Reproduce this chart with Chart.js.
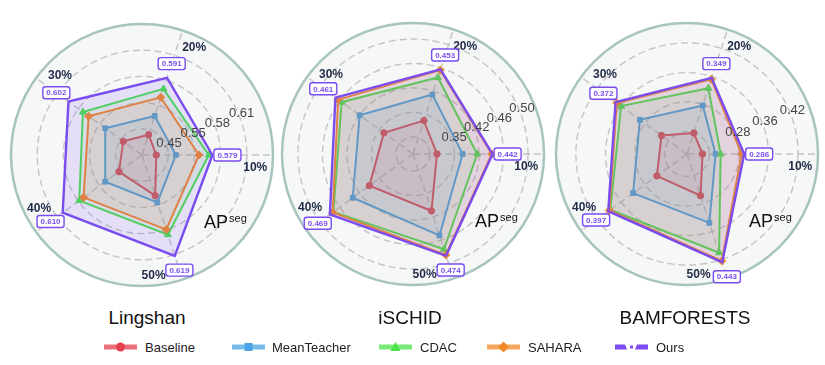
<!DOCTYPE html>
<html>
<head>
<meta charset="utf-8">
<script src="https://cdn.jsdelivr.net/npm/chart.js@4.4.1/dist/chart.umd.min.js"></script>
<style>
html,body{margin:0;padding:0;background:#fff;width:825px;height:365px;overflow:hidden;position:relative;font-family:"Liberation Sans",Arial,Helvetica,sans-serif;}
canvas.cv{position:absolute;}
.title{position:absolute;font-size:19px;color:#111;transform:translate(-50%,-50%);white-space:nowrap;}
.leg{position:absolute;top:339px;height:16px;display:flex;align-items:center;font-size:13px;color:#222;white-space:nowrap;}
.leg svg{display:block;}
</style>
</head>
<body>
<canvas id="c0" class="cv" width="280" height="280" style="left:2px;top:15px"></canvas>
<canvas id="c1" class="cv" width="280" height="280" style="left:273px;top:14px"></canvas>
<canvas id="c2" class="cv" width="280" height="280" style="left:547px;top:14px"></canvas>

<div class="title" style="left:147px;top:318px">Lingshan</div>
<div class="title" style="left:410px;top:318px">iSCHID</div>
<div class="title" style="left:685px;top:318px">BAMFORESTS</div>

<div class="leg" style="left:104px"><svg width="33" height="14"><line x1="0" y1="7" x2="33" y2="7" stroke="#e6404e" stroke-opacity="0.75" stroke-width="5"/><circle cx="16.5" cy="7" r="4.5" fill="#e6404e"/></svg></div>
<div class="leg" style="left:145px">Baseline</div>
<div class="leg" style="left:232px"><svg width="33" height="14"><line x1="0" y1="7" x2="33" y2="7" stroke="#4aa3e6" stroke-opacity="0.75" stroke-width="5"/><rect x="12.5" y="3" width="8" height="8" fill="#4aa3e6"/></svg></div>
<div class="leg" style="left:272px">MeanTeacher</div>
<div class="leg" style="left:379px"><svg width="33" height="14"><line x1="0" y1="7" x2="33" y2="7" stroke="#4be34b" stroke-opacity="0.75" stroke-width="5"/><polygon points="16.5,2 21.5,11 11.5,11" fill="#4be34b"/></svg></div>
<div class="leg" style="left:420px">CDAC</div>
<div class="leg" style="left:487px"><svg width="33" height="14"><line x1="0" y1="7" x2="33" y2="7" stroke="#f08a28" stroke-opacity="0.75" stroke-width="5"/><polygon points="16.5,1.5 22,7 16.5,12.5 11,7" fill="#f08a28"/></svg></div>
<div class="leg" style="left:528px">SAHARA</div>
<div class="leg" style="left:615px"><svg width="34" height="14"><polygon points="0,4.5 10,4.5 12,9.5 0,9.5" fill="#7a4cf0"/><rect x="15" y="5.5" width="3" height="3" fill="#7a4cf0"/><polygon points="22,4.5 33,4.5 33,9.5 20,9.5" fill="#7a4cf0"/></svg></div>
<div class="leg" style="left:656px">Ours</div>

<script>
// ---------- data ----------
const categories = ['10%', '20%', '30%', '40%', '50%'];
const seriesNames = ['Baseline', 'MeanTeacher', 'CDAC', 'SAHARA', 'Ours'];
const datasetNames = ['Lingshan', 'iSCHID', 'BAMFORESTS'];

// Lingshan
const lingshanBaseline    = [0.516, 0.524, 0.526, 0.532, 0.548];
const lingshanMeanTeacher = [0.538, 0.546, 0.551, 0.551, 0.556];
const lingshanCDAC        = [0.575, 0.578, 0.582, 0.587, 0.594];
const lingshanSAHARA      = [0.564, 0.568, 0.574, 0.581, 0.588];
const lingshanOurs        = [0.579, 0.591, 0.602, 0.610, 0.619];
const lingshanRange       = [0.500, 0.647];
const lingshanTickValues  = [0.5294, 0.5588, 0.5882, 0.6176];
const lingshanTickLabels  = ['0.45', '0.55', '0.58', '0.61'];

// iSCHID
const ischidBaseline    = [0.377, 0.390, 0.391, 0.412, 0.419];
const ischidMeanTeacher = [0.407, 0.422, 0.426, 0.436, 0.449];
const ischidCDAC        = [0.424, 0.443, 0.452, 0.464, 0.466];
const ischidSAHARA      = [0.441, 0.452, 0.457, 0.465, 0.473];
const ischidOurs        = [0.442, 0.453, 0.461, 0.469, 0.474];
const ischidRange       = [0.349, 0.502];
const ischidTickValues  = [0.3689, 0.3975, 0.4261, 0.4547, 0.4833];
const ischidTickLabels  = ['', '0.35', '0.42', '0.46', '0.50'];

// BAMFORESTS
const bamBaseline    = [0.171, 0.189, 0.215, 0.231, 0.249];
const bamMeanTeacher = [0.207, 0.269, 0.289, 0.312, 0.328];
const bamCDAC        = [0.221, 0.319, 0.353, 0.390, 0.415];
const bamSAHARA      = [0.279, 0.345, 0.368, 0.393, 0.439];
const bamOurs        = [0.286, 0.349, 0.372, 0.397, 0.443];
const bamRange       = [0.128, 0.490];
const bamTickValues  = [0.190, 0.272, 0.353, 0.435];
const bamTickLabels  = ['', '0.28', '0.36', '0.42'];

// ---------- styles ----------
const seriesStyles = [
  {color: '#e6404e', fill: 'rgba(230,64,78,0.11)',  pointStyle: 'circle',  radius: 3.2, width: 2},
  {color: '#4aa3e6', fill: 'rgba(74,163,230,0.11)', pointStyle: 'rect',    radius: 3.4, width: 2},
  {color: '#4be34b', fill: 'rgba(75,227,75,0.10)',  pointStyle: 'triangle',radius: 4,   width: 2},
  {color: '#f08a28', fill: 'rgba(240,138,40,0.13)', pointStyle: 'rectRot', radius: 4,   width: 2},
  {color: '#7a4cf0', fill: 'rgba(122,76,240,0.14)', pointStyle: 'circle',  radius: 0,   width: 2.4}
];
// category label placement (natural order 10%..50%): rotation in degrees and distance in px
const catLabelRot  = [6.5, 8, 8, 8.5, 12.5];
const catLabelDist = [114, 119, 114, 116, 121];

// Chart.js radar goes clockwise; the reference goes counter-clockwise from the right.
const order = [0, 4, 3, 2, 1];
const reorder = arr => order.map(i => arr[i]);
const FONT = '"Liberation Sans", Arial, Helvetica, sans-serif';

const overlay = {
  id: 'overlay',
  afterDraw(chart, args, opts) {
    const s = chart.scales.r;
    const ctx = chart.ctx;
    const cx = s.xCenter, cy = s.yCenter;
    ctx.save();
    // radial tick labels at 22.5 degrees
    ctx.font = '13px ' + FONT;
    ctx.fillStyle = '#444';
    ctx.textAlign = 'center';
    ctx.textBaseline = 'middle';
    const a = -22.5 * Math.PI / 180;
    opts.tickValues.forEach((v, i) => {
      const t = opts.tickLabels[i];
      if (!t) return;
      const d = s.getDistanceFromCenterForValue(v) + 3;
      ctx.fillText(t, cx + d * Math.cos(a), cy + d * Math.sin(a));
    });
    // category labels
    ctx.font = 'bold 12px ' + FONT;
    ctx.fillStyle = '#1f2a48';
    chart.data.labels.forEach((lab, i) => {
      const n = order[i];
      const ang = s.getIndexAngle(i) - Math.PI / 2 + catLabelRot[n] * Math.PI / 180;
      const d = catLabelDist[n];
      ctx.fillText(lab, cx + d * Math.cos(ang), cy + d * Math.sin(ang));
    });
    // AP^seg
    ctx.fillStyle = '#111';
    ctx.textAlign = 'left';
    ctx.textBaseline = 'alphabetic';
    ctx.font = '18px ' + FONT;
    const apX = cx + 62, apY = cy + 73;
    ctx.fillText('AP', apX, apY);
    const w = ctx.measureText('AP').width;
    ctx.font = '11px ' + FONT;
    ctx.fillText('seg', apX + w + 1, apY - 6);
    // value boxes for Ours
    const ds = chart.data.datasets[opts.oursIndex];
    const col = seriesStyles[opts.oursIndex].color;
    ds.data.forEach((v, i) => {
      const d = s.getDistanceFromCenterForValue(v) + 15;
      const p = s.getPointPosition(i, d);
      const bw = 27, bh = 12;
      ctx.beginPath();
      ctx.roundRect(p.x - bw / 2, p.y - bh / 2, bw, bh, 2.5);
      ctx.fillStyle = '#fff';
      ctx.fill();
      ctx.lineWidth = 1.4;
      ctx.strokeStyle = col;
      ctx.stroke();
      ctx.fillStyle = col;
      ctx.font = 'bold 8px ' + FONT;
      ctx.textAlign = 'center';
      ctx.textBaseline = 'middle';
      ctx.fillText(v.toFixed(3), p.x, p.y + 0.5);
    });
    ctx.restore();
  }
};

function isOuter(c) {
  return c.tick && c.scale && Math.abs(c.tick.value - c.scale.max) < 1e-9;
}

function makeChart(canvasId, series, range, tickValues, tickLabels) {
  const datasets = seriesNames.map((n, k) => {
    const st = seriesStyles[k];
    return {
      label: n,
      data: reorder(series[k]),
      borderColor: st.color,
      backgroundColor: st.fill,
      pointBackgroundColor: st.color,
      pointBorderColor: st.color,
      pointStyle: st.pointStyle,
      pointRadius: st.radius,
      pointBorderWidth: 1,
      borderWidth: st.width,
      fill: true,
      order: seriesNames.length - 1 - k
    };
  });
  return new Chart(document.getElementById(canvasId), {
    type: 'radar',
    data: {labels: reorder(categories), datasets},
    options: {
      responsive: false,
      animation: false,
      devicePixelRatio: 1,
      layout: {padding: 9},
      plugins: {
        legend: {display: false},
        tooltip: {enabled: false},
        overlay: {tickValues, tickLabels, oursIndex: 4}
      },
      scales: {
        r: {
          min: range[0],
          max: range[1],
          startAngle: 90,
          backgroundColor: '#f6f7f7',
          afterBuildTicks: s => { s.ticks = [range[0], ...tickValues, range[1]].map(v => ({value: v})); },
          ticks: {display: false},
          pointLabels: {display: false},
          grid: {
            circular: true,
            color: c => isOuter(c) ? '#a7c5be' : '#c4c4c4',
            lineWidth: c => isOuter(c) ? 2.5 : 1.4,
            borderDash: c => isOuter(c) ? [] : [7, 4]
          },
          border: {dash: c => isOuter(c) ? [] : [7, 4]},
          angleLines: {color: '#c4c4c4', lineWidth: 1.4, borderDash: [7, 4]}
        }
      }
    },
    plugins: [overlay]
  });
}

makeChart('c0', [lingshanBaseline, lingshanMeanTeacher, lingshanCDAC, lingshanSAHARA, lingshanOurs],
  lingshanRange, lingshanTickValues, lingshanTickLabels);
makeChart('c1', [ischidBaseline, ischidMeanTeacher, ischidCDAC, ischidSAHARA, ischidOurs],
  ischidRange, ischidTickValues, ischidTickLabels);
makeChart('c2', [bamBaseline, bamMeanTeacher, bamCDAC, bamSAHARA, bamOurs],
  bamRange, bamTickValues, bamTickLabels);
</script>
</body>
</html>
